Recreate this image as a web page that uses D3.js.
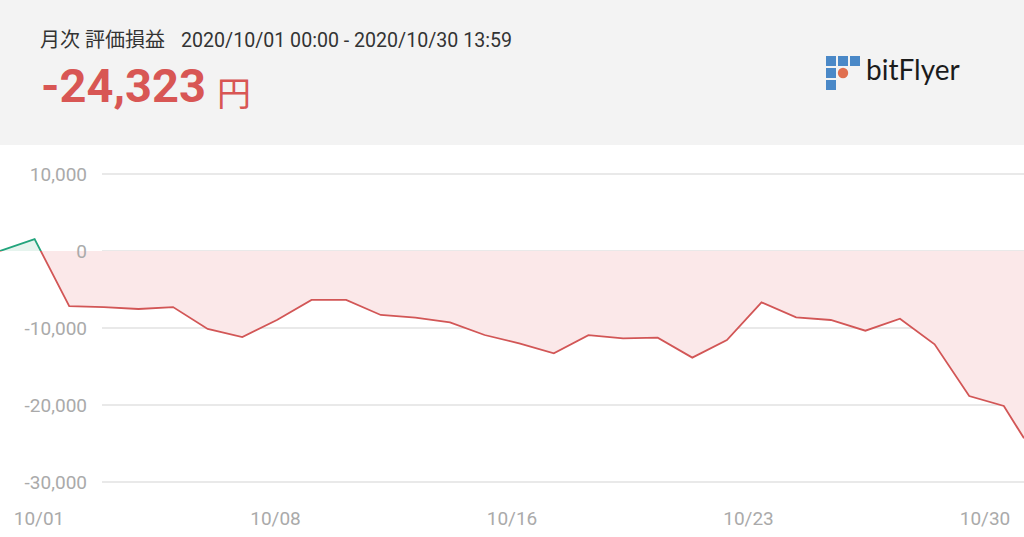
<!DOCTYPE html>
<html>
<head>
<meta charset="utf-8">
<script src="https://cdn.jsdelivr.net/npm/d3@7"></script>
<style>
  html, body { margin: 0; padding: 0; background: #fff; }
  svg { display: block; font-family: Roboto, "Noto Sans CJK JP", sans-serif; }
</style>
</head>
<body>
<div class="chart"></div>
<script>
// monthly P/L snapshots (one per day at 00:00, last one 10/30 13:59)
const dates = [
  "2020-10-01T00:00", "2020-10-02T00:00", "2020-10-03T00:00", "2020-10-04T00:00",
  "2020-10-05T00:00", "2020-10-06T00:00", "2020-10-07T00:00", "2020-10-08T00:00",
  "2020-10-09T00:00", "2020-10-10T00:00", "2020-10-11T00:00", "2020-10-12T00:00",
  "2020-10-13T00:00", "2020-10-14T00:00", "2020-10-15T00:00", "2020-10-16T00:00",
  "2020-10-17T00:00", "2020-10-18T00:00", "2020-10-19T00:00", "2020-10-20T00:00",
  "2020-10-21T00:00", "2020-10-22T00:00", "2020-10-23T00:00", "2020-10-24T00:00",
  "2020-10-25T00:00", "2020-10-26T00:00", "2020-10-27T00:00", "2020-10-28T00:00",
  "2020-10-29T00:00", "2020-10-30T00:00", "2020-10-30T13:59"
];
const values = [
  0, 1550, -7150, -7280, -7530, -7280, -10130, -11170,
  -8960, -6360, -6360, -8310, -8660, -9260, -10910, -11990,
  -13290, -10930, -11340, -11260, -13850, -11560, -6670, -8620,
  -8960, -10350, -8790, -12120, -18830, -20130, -24323
];
const yTicks = [10000, 0, -10000, -20000, -30000];
const xTickLabels = ["10/01", "10/08", "10/16", "10/23", "10/30"];

const title = "月次 評価損益";
const period = "2020/10/01 00:00 - 2020/10/30 13:59";
const total = values[values.length - 1];

const width = 1024, height = 537;
const headerH = 145;

// plain hyphen for negatives, like the app shows
const fmt = d3.formatLocale({
  decimal: ".", thousands: ",", grouping: [3], currency: ["", ""], minus: "-"
}).format(",");

const svg = d3.select('.chart').append('svg')
  .attr('width', width)
  .attr('height', height);

// header band
svg.append('rect')
  .attr('width', width)
  .attr('height', headerH)
  .attr('fill', '#f3f3f3');

svg.append('text')
  .attr('x', 40).attr('y', 47)
  .attr('font-size', 20)
  .attr('fill', '#333')
  .text(title);
svg.append('text')
  .attr('x', 181).attr('y', 47)
  .attr('font-size', 19.6)
  .attr('fill', '#333')
  .text(period);

const big = svg.append('text')
  .attr('x', 41).attr('y', 102)
  .attr('fill', '#d85654');
big.append('tspan')
  .attr('font-size', 47)
  .attr('font-weight', 'bold')
  .text(fmt(total));
big.append('tspan')
  .attr('dx', 11)
  .attr('dy', 4)
  .attr('font-size', 34)
  .text('円');

// bitFlyer logo
const logo = svg.append('g').attr('transform', 'translate(826,56)');
const cells = [[0, 0], [1, 0], [2, 0], [0, 1], [0, 2]];
logo.selectAll('rect').data(cells).enter().append('rect')
  .attr('x', d => d[0] * 12)
  .attr('y', d => d[1] * 12)
  .attr('width', 10)
  .attr('height', 10)
  .attr('fill', '#4a88c7');
logo.append('circle')
  .attr('cx', 17).attr('cy', 17).attr('r', 5.2)
  .attr('fill', '#e06f4f');
svg.append('text')
  .attr('x', 866).attr('y', 80)
  .attr('font-family', 'Lato, "Open Sans", sans-serif')
  .attr('font-size', 28)
  .attr('fill', '#1b1b1b')
  .text('bitFlyer');

// scales
const parse = d3.timeParse('%Y-%m-%dT%H:%M');
const data = dates.map((d, i) => ({ t: parse(d), v: values[i] }));

const x = d3.scaleTime()
  .domain(d3.extent(data, d => d.t))
  .range([0, width]);
const y = d3.scaleLinear()
  .domain([-30000, 10000])
  .range([482, 174]);

// grid
svg.append('g').selectAll('line').data(yTicks).enter().append('line')
  .attr('x1', 102).attr('x2', width)
  .attr('y1', d => y(d)).attr('y2', d => y(d))
  .attr('stroke', '#e2e2e2')
  .attr('stroke-width', 1.3);

// fills and lines, split at zero
const defs = svg.append('defs');
defs.append('clipPath').attr('id', 'clip-pos')
  .append('rect').attr('x', 0).attr('y', 0)
  .attr('width', width).attr('height', y(0));
defs.append('clipPath').attr('id', 'clip-neg')
  .append('rect').attr('x', 0).attr('y', y(0))
  .attr('width', width).attr('height', height - y(0));

const area = d3.area()
  .x(d => x(d.t))
  .y0(y(0))
  .y1(d => y(d.v));
const line = d3.line()
  .x(d => x(d.t))
  .y(d => y(d.v));

svg.append('path').datum(data)
  .attr('clip-path', 'url(#clip-pos)')
  .attr('d', area)
  .attr('fill', '#e6f4ee');
svg.append('path').datum(data)
  .attr('clip-path', 'url(#clip-neg)')
  .attr('d', area)
  .attr('fill', '#fbe8e9');

// y labels on top of the fill
svg.append('g').selectAll('text').data(yTicks).enter().append('text')
  .attr('x', 87)
  .attr('y', d => y(d))
  .attr('dy', '0.36em')
  .attr('text-anchor', 'end')
  .attr('font-size', 19)
  .attr('fill', '#aaa')
  .text(d => fmt(d));

svg.append('path').datum(data)
  .attr('clip-path', 'url(#clip-pos)')
  .attr('d', line)
  .attr('fill', 'none')
  .attr('stroke', '#22a47c')
  .attr('stroke-width', 1.8);
svg.append('path').datum(data)
  .attr('clip-path', 'url(#clip-neg)')
  .attr('d', line)
  .attr('fill', 'none')
  .attr('stroke', '#d25656')
  .attr('stroke-width', 1.8);

// x labels, spread evenly along the bottom
const xLab = d3.scalePoint()
  .domain(xTickLabels)
  .range([39, 985]);
svg.append('g').selectAll('text').data(xTickLabels).enter().append('text')
  .attr('x', d => xLab(d))
  .attr('y', 525)
  .attr('text-anchor', 'middle')
  .attr('font-size', 19)
  .attr('fill', '#aaa')
  .text(d => d);
</script>
</body>
</html>
